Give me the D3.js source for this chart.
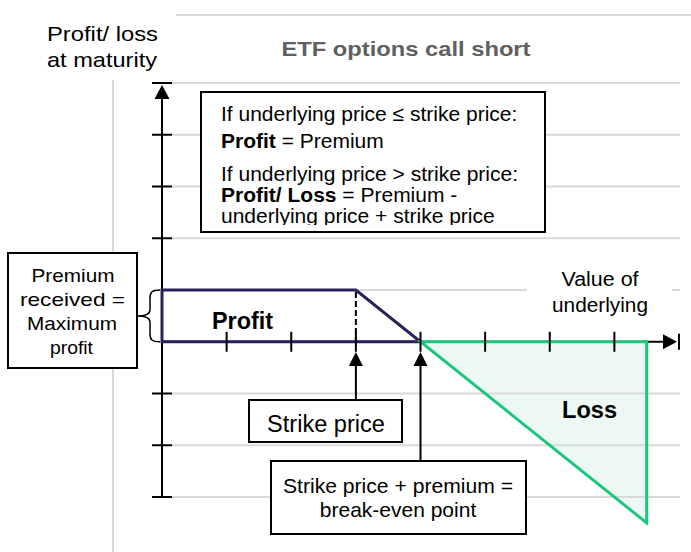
<!DOCTYPE html>
<html>
<head>
<meta charset="utf-8">
<script src="https://cdn.jsdelivr.net/npm/d3@7"></script>
<style>
  body { margin: 0; background: #fff; }
  svg text { font-family: "Liberation Sans", Arial, sans-serif; }
</style>
</head>
<body>
<div id="chart"></div>
<script>
// payoff of a short call, in "units" of the drawing
var yLevels = [-3, -2, -1, 0, 1, 2, 3, 4, 5];
var xTicks = [1, 2, 3, 4, 5, 6, 7];
var premium = 1, strikePrice = 3, breakEven = 4;
var profitShape = [[0, 1], [3, 1], [4, 0], [0, 0]];
var lossShape = [[4, 0], [7.5, 0], [7.5, -3.5]];

var infoLines = [
  [{t: "If underlying price \u2264 strike price:"}],
  [{t: "Profit", b: true}, {t: " = Premium"}],
  [{t: "If underlying price > strike price:"}],
  [{t: "Profit/ Loss", b: true}, {t: " = Premium -"}],
  [{t: "underlying price + strike price"}]
];

var width = 691, height = 552;
var navy = "#27235a", green = "#1cc67c", grid = "#d9d9d9";

var svg = d3.select("#chart").append("svg")
  .attr("width", width)
  .attr("height", height);

var x = d3.scaleLinear().domain([0, 8]).range([162, 679]);
var y = d3.scaleLinear().domain([-3, 5]).range([497, 83]);

function label(g, str, cx, base, size, len, opts) {
  opts = opts || {};
  var t = g.append("text")
    .attr("x", cx).attr("y", base)
    .attr("font-size", size)
    .attr("text-anchor", opts.anchor || "middle")
    .attr("font-weight", opts.bold ? "bold" : "normal")
    .attr("fill", opts.fill || "#000")
    .text(str);
  if (len) t.attr("textLength", len).attr("lengthAdjust", "spacingAndGlyphs");
  return t;
}

// frame lines
svg.append("line").attr("x1", 176).attr("x2", 691).attr("y1", 15).attr("y2", 15)
  .attr("stroke", grid).attr("stroke-width", 2);
svg.append("line").attr("x1", 113).attr("x2", 113).attr("y1", 80).attr("y2", 552)
  .attr("stroke", grid).attr("stroke-width", 2);

var line = d3.line().x(function(d){ return x(d[0]); }).y(function(d){ return y(d[1]); });

// loss area fill (under the grid)
svg.append("path").attr("d", line(lossShape) + "Z")
  .attr("fill", "#edf7f3").attr("stroke", "none");

// gridlines
svg.selectAll(".grid").data(yLevels.filter(function(d){ return d != 0; }))
  .enter().append("line")
  .attr("class", "grid")
  .attr("x1", 172).attr("x2", 680)
  .attr("y1", function(d){ return y(d); }).attr("y2", function(d){ return y(d); })
  .attr("stroke", grid).attr("stroke-width", 2);

// white patch behind "Value of underlying"
svg.append("rect").attr("x", 527).attr("y", 262).attr("width", 145).attr("height", 58).attr("fill", "#fff");
label(svg, "Value of", 600, 286, 19.5, 77);
label(svg, "underlying", 600, 312, 19.5, 96);

// y axis
svg.append("line").attr("x1", x(0)).attr("x2", x(0)).attr("y1", y(5) + 4).attr("y2", y(-3))
  .attr("stroke", "#000").attr("stroke-width", 2);
svg.selectAll(".ytick").data(yLevels.filter(function(d){ return d != 0 && d != premium; }))
  .enter().append("line")
  .attr("class", "ytick")
  .attr("x1", x(0) - 10).attr("x2", x(0) + 10)
  .attr("y1", function(d){ return y(d); }).attr("y2", function(d){ return y(d); })
  .attr("stroke", "#000").attr("stroke-width", 2);
svg.append("path")
  .attr("d", "M" + x(0) + "," + (y(5) + 2) + "l-7.5,14h15z")
  .attr("fill", "#000");

// x axis
svg.append("line").attr("x1", x(0)).attr("x2", x(8) - 6).attr("y1", y(0)).attr("y2", y(0))
  .attr("stroke", "#000").attr("stroke-width", 2);
svg.append("path")
  .attr("d", "M" + (x(8) - 2) + "," + y(0) + "l-14,-7.5v15z")
  .attr("fill", "#000");
svg.append("line").attr("x1", x(8)).attr("x2", x(8)).attr("y1", y(0) - 8).attr("y2", y(0) + 8)
  .attr("stroke", "#000").attr("stroke-width", 2);

// payoff shapes
svg.append("path").attr("d", line(profitShape) + "Z")
  .attr("fill", "none").attr("stroke", navy).attr("stroke-width", 3)
  .attr("stroke-linejoin", "miter");
svg.append("path").attr("d", line(lossShape) + "Z")
  .attr("fill", "none").attr("stroke", green).attr("stroke-width", 3)
  .attr("stroke-linejoin", "miter");

// dashed strike line
svg.append("line").attr("x1", x(strikePrice)).attr("x2", x(strikePrice))
  .attr("y1", y(premium) + 2).attr("y2", y(0))
  .attr("stroke", "#000").attr("stroke-width", 2).attr("stroke-dasharray", "6,3");

// x ticks
svg.selectAll(".xtick").data(xTicks)
  .enter().append("line")
  .attr("class", "xtick")
  .attr("x1", function(d){ return x(d); }).attr("x2", function(d){ return x(d); })
  .attr("y1", y(0) - 10).attr("y2", y(0) + 10)
  .attr("stroke", "#000").attr("stroke-width", 2);

label(svg, "Profit", 242.5, 329, 23, 61, {bold: true});
label(svg, "Loss", 589.5, 418, 23, 55, {bold: true});

// axis title + chart title
label(svg, "Profit/ loss", 102.5, 41, 21, 111);
label(svg, "at maturity", 102, 67, 21, 110);
label(svg, "ETF options call short", 406, 56, 21, 249, {bold: true, fill: "#606060"});

// info box (last line is cut off by the box, as in the original)
svg.append("clipPath").attr("id", "infoclip")
  .append("rect").attr("x", 201).attr("y", 92).attr("width", 344).attr("height", 133);
svg.append("rect").attr("x", 201).attr("y", 92).attr("width", 344).attr("height", 140)
  .attr("fill", "#fff").attr("stroke", "#000").attr("stroke-width", 2);
var info = svg.append("g").attr("clip-path", "url(#infoclip)");
var infoBase = [121, 148, 181, 202, 223];
infoLines.forEach(function(parts, i) {
  var t = info.append("text").attr("x", 221).attr("y", infoBase[i]).attr("font-size", 21);
  parts.forEach(function(p) {
    t.append("tspan").attr("font-weight", p.b ? "bold" : "normal").text(p.t);
  });
});

// premium box + brace
svg.append("rect").attr("x", 8).attr("y", 253).attr("width", 129).attr("height", 115)
  .attr("fill", "#fff").attr("stroke", "#000").attr("stroke-width", 2);
label(svg, "Premium", 73, 282, 19, 83);
label(svg, "received  =", 72.5, 306, 19, 105);
label(svg, "Maximum", 72, 330, 19, 90);
label(svg, "profit", 71.5, 354, 19, 43);
var yt = y(premium), yb = y(0), ym = (yt + yb) / 2;
svg.append("path")
  .attr("d", "M160," + yt + " C152," + yt + " 150," + (yt + 2) + " 150," + (yt + 8) +
    " L150," + (ym - 6) + " C150," + (ym - 2) + " 147," + ym + " 137," + ym +
    " C147," + ym + " 150," + (ym + 2) + " 150," + (ym + 6) +
    " L150," + (yb - 8) + " C150," + (yb - 2) + " 152," + yb + " 160," + yb)
  .attr("fill", "none").attr("stroke", "#000").attr("stroke-width", 1.5);

// strike price box + arrow
svg.append("line").attr("x1", x(strikePrice)).attr("x2", x(strikePrice)).attr("y1", 400).attr("y2", 364)
  .attr("stroke", "#000").attr("stroke-width", 2);
svg.append("path").attr("d", "M" + x(strikePrice) + ",352l-7,14h14z").attr("fill", "#000");
svg.append("rect").attr("x", 249).attr("y", 400).attr("width", 153).attr("height", 42)
  .attr("fill", "#fff").attr("stroke", "#000").attr("stroke-width", 2);
label(svg, "Strike price", 326, 432, 23, 118);

// break-even box + arrow
svg.append("line").attr("x1", x(breakEven)).attr("x2", x(breakEven)).attr("y1", 461).attr("y2", 364)
  .attr("stroke", "#000").attr("stroke-width", 2);
svg.append("path").attr("d", "M" + x(breakEven) + ",352l-7,14h14z").attr("fill", "#000");
svg.append("rect").attr("x", 271).attr("y", 461).attr("width", 255).attr("height", 73)
  .attr("fill", "#fff").attr("stroke", "#000").attr("stroke-width", 2);
label(svg, "Strike price + premium =", 398, 493, 21, 230);
label(svg, "break-even point", 398, 517, 21);
</script>
</body>
</html>
